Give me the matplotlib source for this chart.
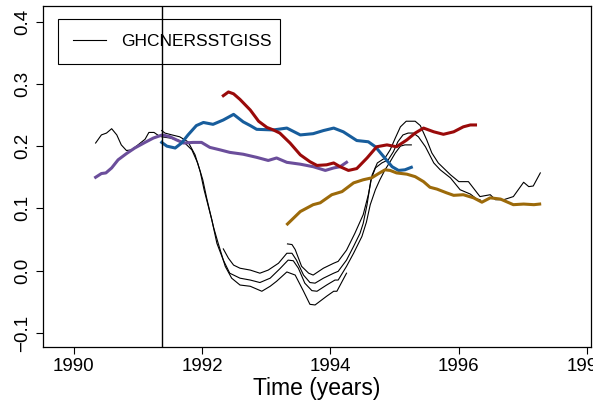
import matplotlib
matplotlib.use('Agg')
import matplotlib.pyplot as plt

plt.rcParams['font.family'] = ['Liberation Sans', 'DejaVu Sans']

# coloured series (4-year windows)
purple_t = [1990.34, 1990.43, 1990.50, 1990.59, 1990.69, 1990.82, 1990.95, 1991.11, 1991.24, 1991.38,
            1991.50, 1991.60, 1991.71, 1991.86, 1991.99, 1992.12, 1992.28, 1992.43, 1992.64, 1992.85,
            1993.03, 1993.16, 1993.32, 1993.53, 1993.73, 1993.92, 1994.05, 1994.15, 1994.25]
purple_v = [0.150, 0.156, 0.157, 0.165, 0.178, 0.188, 0.197, 0.206, 0.213, 0.218,
            0.215, 0.210, 0.205, 0.206, 0.206, 0.198, 0.194, 0.190, 0.187, 0.182,
            0.177, 0.181, 0.174, 0.171, 0.167, 0.161, 0.165, 0.167, 0.174]

blue_t = [1991.37, 1991.45, 1991.58, 1991.68, 1991.78, 1991.91, 1992.02, 1992.17, 1992.33, 1992.49,
          1992.64, 1992.75, 1992.85, 1993.11, 1993.32, 1993.53, 1993.73, 1993.89, 1994.05, 1994.20,
          1994.41, 1994.59, 1994.70, 1994.83, 1994.96, 1995.06, 1995.16, 1995.26]
blue_v = [0.206, 0.200, 0.197, 0.205, 0.218, 0.233, 0.238, 0.235, 0.242, 0.251,
          0.239, 0.233, 0.227, 0.226, 0.229, 0.218, 0.220, 0.225, 0.229, 0.223,
          0.209, 0.207, 0.199, 0.183, 0.167, 0.161, 0.162, 0.166]

red_t = [1992.33, 1992.41, 1992.49, 1992.59, 1992.75, 1992.88, 1993.01, 1993.11, 1993.21, 1993.37,
         1993.53, 1993.68, 1993.79, 1993.94, 1994.05, 1994.15, 1994.28, 1994.41, 1994.57, 1994.72,
         1994.88, 1995.03, 1995.19, 1995.32, 1995.45, 1995.61, 1995.76, 1995.92, 1996.07, 1996.18,
         1996.26]
red_v = [0.281, 0.287, 0.284, 0.275, 0.258, 0.240, 0.230, 0.226, 0.221, 0.205,
         0.186, 0.175, 0.169, 0.170, 0.173, 0.167, 0.161, 0.164, 0.181, 0.199,
         0.202, 0.199, 0.210, 0.221, 0.229, 0.223, 0.219, 0.223, 0.231, 0.234,
         0.234]

gold_t = [1993.33, 1993.53, 1993.73, 1993.84, 1994.02, 1994.18, 1994.36, 1994.51, 1994.64, 1994.75,
          1994.85, 1994.93, 1995.03, 1995.19, 1995.32, 1995.45, 1995.55, 1995.66, 1995.81, 1995.92,
          1996.07, 1996.23, 1996.36, 1996.49, 1996.65, 1996.85, 1997.01, 1997.17, 1997.26]
gold_v = [0.075, 0.095, 0.106, 0.109, 0.122, 0.127, 0.141, 0.146, 0.149, 0.156,
          0.162, 0.161, 0.157, 0.155, 0.151, 0.143, 0.134, 0.131, 0.125, 0.121,
          0.122, 0.117, 0.110, 0.117, 0.115, 0.106, 0.107, 0.106, 0.107]

# black GHCN/ERSST/GISS windows
k1_t = [1990.34, 1990.43, 1990.51, 1990.59, 1990.67, 1990.74, 1990.82, 1990.90, 1991.00, 1991.11,
        1991.17, 1991.25, 1991.32, 1991.37, 1991.50, 1991.62, 1991.73, 1991.84, 1991.93, 1992.01,
        1992.07, 1992.12, 1992.18, 1992.25, 1992.36, 1992.46, 1992.59, 1992.75, 1992.93, 1993.06,
        1993.16, 1993.32, 1993.45, 1993.58, 1993.68, 1993.76, 1993.94, 1994.05, 1994.10, 1994.25]
k1_v = [0.205, 0.218, 0.221, 0.228, 0.218, 0.202, 0.193, 0.194, 0.202, 0.211,
        0.222, 0.222, 0.217, 0.215, 0.213, 0.210, 0.205, 0.194, 0.173, 0.146,
        0.117, 0.095, 0.069, 0.044, 0.007, -0.012, -0.023, -0.025, -0.033, -0.025,
        -0.017, -0.002, -0.007, -0.033, -0.054, -0.055, -0.041, -0.033, -0.033, -0.004]

k2_t = [1991.37, 1991.42, 1991.53, 1991.65, 1991.78, 1991.89, 1991.97, 1992.03, 1992.09, 1992.15,
        1992.23, 1992.33, 1992.43, 1992.59, 1992.75, 1992.90, 1993.06, 1993.21, 1993.34, 1993.42,
        1993.50, 1993.60, 1993.71, 1993.79, 1993.94, 1994.07, 1994.12, 1994.25, 1994.36, 1994.49,
        1994.56, 1994.62, 1994.70, 1994.77, 1994.85, 1994.93, 1995.01, 1995.09, 1995.16, 1995.26]
k2_v = [0.225, 0.221, 0.218, 0.215, 0.207, 0.186, 0.159, 0.130, 0.106, 0.082,
        0.044, 0.017, -0.004, -0.012, -0.015, -0.019, -0.012, 0.003, 0.017, 0.016,
        0.004, -0.020, -0.032, -0.033, -0.023, -0.015, -0.015, 0.007, 0.028, 0.055,
        0.078, 0.106, 0.130, 0.146, 0.162, 0.175, 0.189, 0.200, 0.202, 0.202]

k3_t = [1992.33, 1992.41, 1992.49, 1992.59, 1992.75, 1992.90, 1993.03, 1993.19, 1993.32, 1993.40,
        1993.47, 1993.58, 1993.68, 1993.76, 1993.89, 1994.05, 1994.12, 1994.25, 1994.36, 1994.46,
        1994.51, 1994.57, 1994.63, 1994.70, 1994.80, 1994.90, 1994.98, 1995.05, 1995.13, 1995.21,
        1995.29, 1995.37, 1995.48, 1995.61, 1995.71, 1995.87, 1996.02, 1996.18, 1996.28, 1996.33]
k3_v = [0.035, 0.020, 0.009, 0.004, 0.001, -0.004, 0.001, 0.012, 0.028, 0.028,
        0.017, -0.007, -0.019, -0.020, -0.012, -0.004, -0.001, 0.017, 0.039, 0.060,
        0.076, 0.106, 0.146, 0.165, 0.173, 0.178, 0.191, 0.207, 0.218, 0.221,
        0.221, 0.215, 0.199, 0.173, 0.162, 0.149, 0.130, 0.123, 0.115, 0.114]

k4_t = [1993.33, 1993.40, 1993.45, 1993.55, 1993.66, 1993.73, 1993.89, 1994.05, 1994.12, 1994.25,
        1994.38, 1994.51, 1994.59, 1994.65, 1994.73, 1994.85, 1994.93, 1995.01, 1995.09, 1995.18,
        1995.32, 1995.40, 1995.50, 1995.58, 1995.68, 1995.87, 1996.00, 1996.15, 1996.33, 1996.49,
        1996.57, 1996.70, 1996.85, 1997.01, 1997.09, 1997.16, 1997.27]
k4_v = [0.043, 0.042, 0.034, 0.007, -0.004, -0.007, 0.004, 0.012, 0.015, 0.033,
        0.060, 0.090, 0.122, 0.154, 0.173, 0.181, 0.194, 0.213, 0.231, 0.240,
        0.240, 0.233, 0.210, 0.189, 0.173, 0.154, 0.143, 0.143, 0.119, 0.122,
        0.114, 0.114, 0.119, 0.142, 0.135, 0.136, 0.157]

marker_year = 1991.37
legend_label = 'GHCNERSSTGISS'
xticks = [1990, 1992, 1994, 1996, 1998]
yticks = [-0.1, 0.0, 0.1, 0.2, 0.3, 0.4]

fig = plt.figure(figsize=(5.93, 4.03), dpi=100)
ax = fig.add_axes([43 / 593, 1 - 347 / 403, 548 / 593, 341 / 403])

for t, v in [(k1_t, k1_v), (k2_t, k2_v), (k3_t, k3_v), (k4_t, k4_v)]:
    ax.plot(t, v, color='black', lw=0.8, zorder=2)
ax.plot([], [], color='black', lw=0.8, label=legend_label)

ax.plot(purple_t, purple_v, color='#6B4E9B', lw=2.2, zorder=3)
ax.plot(blue_t, blue_v, color='#175D9C', lw=2.2, zorder=3)
ax.plot(red_t, red_v, color='#9A0A0A', lw=2.2, zorder=3)
ax.plot(gold_t, gold_v, color='#9C6A0A', lw=2.2, zorder=3)

ax.axvline(marker_year, color='black', lw=1.0, zorder=6)

ax.set_xlim(1989.52, 1998.06)
ax.set_ylim(-0.1225, 0.425)
ax.set_xticks(xticks)
ax.set_yticks(yticks)
ax.set_yticklabels(['\u22120.1', '0.0', '0.1', '0.2', '0.3', '0.4'], rotation=90, va='center')
ax.tick_params(direction='out', length=4.7, width=0.8, labelsize=13.5, pad=3)
ax.tick_params(axis='y', pad=4)
for s in ax.spines.values():
    s.set_linewidth(0.9)
ax.set_xlabel('Time (years)', fontsize=16.5, labelpad=2)

leg = ax.legend(loc='upper left', bbox_to_anchor=(0.0274, 0.836, 0.405, 0.126), mode='expand',
                frameon=True, fancybox=False, edgecolor='black', fontsize=12.5,
                handlelength=1.9, handletextpad=0.9, borderpad=0.85, borderaxespad=0)
leg.get_frame().set_linewidth(0.8)
leg.get_frame().set_alpha(1)

fig.savefig('out.png', dpi=100)
